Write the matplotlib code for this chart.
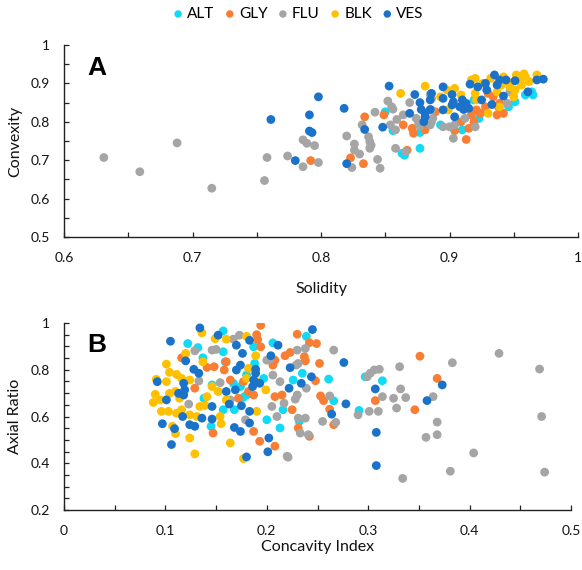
import matplotlib
matplotlib.use("Agg")
import matplotlib.pyplot as plt
from matplotlib.ticker import MultipleLocator, FuncFormatter

plt.rcParams['font.family'] = ['Lato', 'DejaVu Sans']

groups = ["ALT", "GLY", "FLU", "BLK", "VES"]
colors = ["#10DAF6", "#F97D32", "#A5A5A5", "#FFC000", "#1A73C8"]

# ---------- Panel A: Solidity vs Convexity ----------
alt_solidity = [0.850, 0.856, 0.863, 0.865, 0.877, 0.877, 0.893, 0.910, 0.923, 0.946, 0.951, 0.959, 0.964, 0.965, 0.919]
alt_convexity = [0.826, 0.777, 0.718, 0.713, 0.772, 0.731, 0.792, 0.779, 0.809, 0.839, 0.852, 0.870, 0.878, 0.870, 0.857]

gly_solidity = [0.792, 0.823, 0.833, 0.834, 0.849, 0.867, 0.871, 0.872, 0.881, 0.864, 0.889, 0.909, 0.904, 0.915, 0.913,
                0.917, 0.921, 0.924, 0.930, 0.934, 0.938, 0.937, 0.942, 0.939, 0.928, 0.919]
gly_convexity = [0.699, 0.706, 0.691, 0.813, 0.818, 0.726, 0.783, 0.770, 0.779, 0.792, 0.826, 0.800, 0.777, 0.783, 0.754,
                 0.818, 0.831, 0.822, 0.874, 0.865, 0.839, 0.818, 0.822, 0.848, 0.839, 0.800]

flu_solidity = [0.631, 0.659, 0.688, 0.715, 0.756, 0.758, 0.774, 0.786, 0.786, 0.789, 0.795, 0.798, 0.820, 0.824, 0.826,
                0.826, 0.830, 0.832, 0.837, 0.838, 0.839, 0.838, 0.842, 0.844, 0.846, 0.852, 0.855, 0.856, 0.854, 0.859,
                0.858, 0.858, 0.866, 0.869, 0.885, 0.886, 0.886, 0.887, 0.885, 0.886, 0.864, 0.876, 0.877, 0.874, 0.895,
                0.900, 0.904, 0.903, 0.920, 0.912, 0.945, 0.947]
flu_convexity = [0.707, 0.670, 0.745, 0.627, 0.647, 0.707, 0.711, 0.683, 0.753, 0.744, 0.738, 0.694, 0.763, 0.681, 0.742,
                 0.726, 0.716, 0.792, 0.761, 0.748, 0.739, 0.731, 0.825, 0.702, 0.679, 0.854, 0.839, 0.833, 0.792, 0.806,
                 0.779, 0.731, 0.722, 0.850, 0.871, 0.861, 0.831, 0.809, 0.792, 0.800, 0.818, 0.796, 0.789, 0.809, 0.787,
                 0.787, 0.792, 0.757, 0.787, 0.809, 0.848, 0.878]

blk_solidity = [0.862, 0.881, 0.893, 0.904, 0.899, 0.909, 0.920, 0.917, 0.920, 0.932, 0.942, 0.947, 0.951, 0.952, 0.959,
                0.956, 0.950, 0.930, 0.968, 0.921, 0.937, 0.939, 0.955, 0.898, 0.945, 0.962, 0.958, 0.926, 0.940]
blk_convexity = [0.874, 0.893, 0.865, 0.887, 0.831, 0.870, 0.874, 0.909, 0.913, 0.913, 0.917, 0.891, 0.883, 0.922, 0.917,
                 0.896, 0.865, 0.822, 0.922, 0.857, 0.878, 0.839, 0.913, 0.883, 0.905, 0.905, 0.925, 0.900, 0.895]

ves_solidity = [0.761, 0.780, 0.791, 0.791, 0.793, 0.798, 0.818, 0.820, 0.834, 0.848, 0.853, 0.873, 0.877, 0.878, 0.881,
                0.880, 0.881, 0.869, 0.885, 0.886, 0.895, 0.895, 0.902, 0.903, 0.895, 0.902, 0.908, 0.910, 0.913, 0.915,
                0.911, 0.916, 0.904, 0.922, 0.928, 0.929, 0.935, 0.937, 0.939, 0.925, 0.933, 0.942, 0.944, 0.951, 0.961,
                0.968, 0.973, 0.885]
ves_convexity = [0.806, 0.699, 0.818, 0.776, 0.772, 0.865, 0.835, 0.691, 0.780, 0.786, 0.893, 0.871, 0.850, 0.832, 0.822,
                 0.800, 0.813, 0.822, 0.832, 0.874, 0.891, 0.861, 0.871, 0.852, 0.831, 0.844, 0.839, 0.857, 0.848, 0.835,
                 0.832, 0.898, 0.813, 0.891, 0.900, 0.883, 0.922, 0.896, 0.909, 0.857, 0.845, 0.867, 0.909, 0.907, 0.878,
                 0.909, 0.911, 0.857]

# ---------- Panel B: Concavity Index vs Axial Ratio ----------
alt_concavity = [0.157, 0.122, 0.132, 0.157, 0.206, 0.187, 0.137, 0.159, 0.188, 0.180, 0.167, 0.174, 0.146, 0.138, 0.177,
                 0.157, 0.168, 0.200, 0.213, 0.145, 0.216, 0.239, 0.235, 0.226, 0.180, 0.197, 0.261, 0.266, 0.291, 0.297,
                 0.314, 0.232]
alt_axial = [0.966, 0.912, 0.895, 0.877, 0.915, 0.898, 0.851, 0.834, 0.827, 0.778, 0.742, 0.728, 0.735, 0.678, 0.682,
             0.629, 0.629, 0.586, 0.551, 0.558, 0.629, 0.943, 0.785, 0.756, 0.692, 0.763, 0.760, 0.667, 0.626, 0.770,
             0.753, 0.579]

gly_concavity = [0.194, 0.190, 0.191, 0.194, 0.116, 0.141, 0.148, 0.158, 0.160, 0.129, 0.164, 0.177, 0.182, 0.187, 0.208,
                 0.215, 0.187, 0.193, 0.208, 0.147, 0.230, 0.242, 0.249, 0.223, 0.218, 0.237, 0.238, 0.252, 0.248, 0.206,
                 0.208, 0.231, 0.242, 0.225, 0.253, 0.172, 0.256, 0.262, 0.266, 0.307, 0.351, 0.368, 0.346]
gly_axial = [0.990, 0.950, 0.929, 0.898, 0.851, 0.810, 0.813, 0.799, 0.834, 0.721, 0.756, 0.749, 0.707, 0.692, 0.685,
             0.692, 0.536, 0.494, 0.473, 0.529, 0.952, 0.916, 0.912, 0.874, 0.860, 0.856, 0.838, 0.827, 0.753, 0.820,
             0.841, 0.551, 0.515, 0.629, 0.688, 0.678, 0.668, 0.631, 0.565, 0.668, 0.858, 0.763, 0.629]

flu_concavity = [0.129, 0.146, 0.150, 0.167, 0.173, 0.123, 0.133, 0.154, 0.164, 0.213, 0.206, 0.205, 0.217, 0.230, 0.228,
                 0.239, 0.203, 0.200, 0.230, 0.238, 0.231, 0.229, 0.221, 0.220, 0.231, 0.238, 0.233, 0.241, 0.179, 0.210,
                 0.266, 0.255, 0.262, 0.268, 0.290, 0.299, 0.302, 0.306, 0.311, 0.301, 0.310, 0.314, 0.325, 0.328, 0.331,
                 0.332, 0.337, 0.334, 0.357, 0.364, 0.368, 0.368, 0.383, 0.381, 0.404, 0.429, 0.469, 0.471, 0.474]
flu_axial = [0.881, 0.884, 0.887, 0.931, 0.948, 0.653, 0.752, 0.745, 0.671, 0.749, 0.777, 0.643, 0.657, 0.692, 0.674,
             0.721, 0.844, 0.841, 0.884, 0.891, 0.827, 0.820, 0.426, 0.430, 0.593, 0.593, 0.529, 0.522, 0.586, 0.600,
             0.884, 0.579, 0.688, 0.575, 0.607, 0.770, 0.785, 0.799, 0.802, 0.622, 0.622, 0.685, 0.678, 0.636, 0.813,
             0.718, 0.681, 0.335, 0.511, 0.685, 0.576, 0.522, 0.830, 0.366, 0.444, 0.870, 0.803, 0.600, 0.362]

blk_concavity = [0.136, 0.149, 0.160, 0.180, 0.120, 0.101, 0.104, 0.111, 0.116, 0.124, 0.101, 0.091, 0.090, 0.088, 0.095,
                 0.104, 0.110, 0.114, 0.096, 0.103, 0.111, 0.116, 0.124, 0.131, 0.134, 0.139, 0.141, 0.146, 0.152, 0.154,
                 0.155, 0.107, 0.110, 0.124, 0.129, 0.164, 0.177, 0.182, 0.189, 0.180, 0.190, 0.199, 0.190, 0.160, 0.137]
blk_axial = [0.958, 0.933, 0.931, 0.943, 0.870, 0.824, 0.789, 0.780, 0.763, 0.756, 0.749, 0.759, 0.695, 0.660, 0.671,
             0.699, 0.707, 0.678, 0.622, 0.622, 0.614, 0.629, 0.607, 0.600, 0.643, 0.647, 0.685, 0.728, 0.707, 0.600,
             0.569, 0.558, 0.527, 0.508, 0.440, 0.487, 0.420, 0.806, 0.860, 0.763, 0.749, 0.714, 0.622, 0.671, 0.834]

ves_concavity = [0.134, 0.105, 0.152, 0.183, 0.120, 0.170, 0.176, 0.204, 0.211, 0.128, 0.133, 0.174, 0.170, 0.189, 0.189,
                 0.092, 0.118, 0.113, 0.118, 0.119, 0.101, 0.146, 0.169, 0.160, 0.175, 0.163, 0.136, 0.146, 0.117, 0.097,
                 0.109, 0.124, 0.129, 0.168, 0.174, 0.183, 0.183, 0.193, 0.186, 0.222, 0.234, 0.244, 0.223, 0.202, 0.201,
                 0.180, 0.106, 0.187, 0.276, 0.278, 0.264, 0.307, 0.308, 0.308, 0.358, 0.373, 0.245]
ves_axial = [0.979, 0.922, 0.948, 0.926, 0.838, 0.905, 0.870, 0.860, 0.905, 0.802, 0.785, 0.820, 0.799, 0.802, 0.785,
             0.749, 0.742, 0.699, 0.692, 0.714, 0.671, 0.643, 0.714, 0.707, 0.646, 0.653, 0.593, 0.589, 0.600, 0.569,
             0.548, 0.565, 0.558, 0.553, 0.536, 0.572, 0.622, 0.742, 0.728, 0.721, 0.742, 0.770, 0.809, 0.508, 0.449,
             0.427, 0.480, 0.756, 0.831, 0.654, 0.610, 0.718, 0.532, 0.390, 0.668, 0.735, 0.972]

panel_a = [(alt_solidity, alt_convexity), (gly_solidity, gly_convexity), (flu_solidity, flu_convexity),
           (blk_solidity, blk_convexity), (ves_solidity, ves_convexity)]
panel_b = [(alt_concavity, alt_axial), (gly_concavity, gly_axial), (flu_concavity, flu_axial),
           (blk_concavity, blk_axial), (ves_concavity, ves_axial)]

W, H = 582, 570
fig = plt.figure(figsize=(W / 100, H / 100), dpi=100)

def px_axes(l, r, t, b):
    return fig.add_axes([l / W, 1 - b / H, (r - l) / W, (b - t) / H])

axA = px_axes(64, 578, 45, 237)
axB = px_axes(64, 571, 323, 510)

fmt = FuncFormatter(lambda v, p: f"{v:g}")
marker_s = 40

def style(ax, xlim, ylim, xmaj, ymaj, xlabel, ylabel, xlab_y, ylab_x, letter):
    ax.set_xlim(*xlim)
    ax.set_ylim(*ylim)
    ax.xaxis.set_major_locator(MultipleLocator(xmaj))
    ax.xaxis.set_minor_locator(MultipleLocator(0.05))
    ax.yaxis.set_major_locator(MultipleLocator(ymaj))
    ax.yaxis.set_minor_locator(MultipleLocator(0.05))
    ax.xaxis.set_major_formatter(fmt)
    ax.yaxis.set_major_formatter(fmt)
    for s in ["top", "right"]:
        ax.spines[s].set_visible(False)
    for s in ["left", "bottom"]:
        ax.spines[s].set_linewidth(1.0)
        ax.spines[s].set_color("#222222")
    ax.tick_params(which="both", direction="in", length=3.3, width=0.9, color="#222222")
    ax.tick_params(axis="x", which="major", pad=11, labelsize=10, labelcolor="#111111")
    ax.tick_params(axis="y", which="major", pad=10, labelsize=10, labelcolor="#111111")
    ax.set_xlabel(xlabel, fontsize=11.5, color="#111111")
    ax.set_ylabel(ylabel, fontsize=11.5, color="#111111")
    ax.xaxis.label.set_verticalalignment("center")
    ax.yaxis.label.set_verticalalignment("center")
    ax.xaxis.set_label_coords(0.5, xlab_y)
    ax.yaxis.set_label_coords(ylab_x, 0.5)
    ax.text(0.045, 0.845, letter, transform=ax.transAxes, fontsize=19, fontweight="bold",
            family="Liberation Sans", va="baseline", ha="left", color="black")

for (xs, ys), c, g in zip(panel_a, colors, groups):
    axA.scatter(xs, ys, s=marker_s, color=c, edgecolors="none", label=g)
for (xs, ys), c, g in zip(panel_b, colors, groups):
    axB.scatter(xs, ys, s=marker_s, color=c, edgecolors="none", label=g)

style(axA, (0.6, 1.0), (0.5, 1.0), 0.1, 0.1, "Solidity", "Convexity", -0.271, -0.095, "A")
style(axB, (0.0, 0.5), (0.2, 1.0), 0.1, 0.2, "Concavity Index", "Axial Ratio", -0.198, -0.097, "B")

handles, labels = axA.get_legend_handles_labels()
fig.legend(handles, labels, loc="center", bbox_to_anchor=(0.512, 1 - 14 / H), ncol=5, frameon=False,
           fontsize=11, handlelength=0.8, handletextpad=0.2, columnspacing=0.6,
           markerscale=0.85, borderaxespad=0)

fig.savefig("out.png", dpi=100)
